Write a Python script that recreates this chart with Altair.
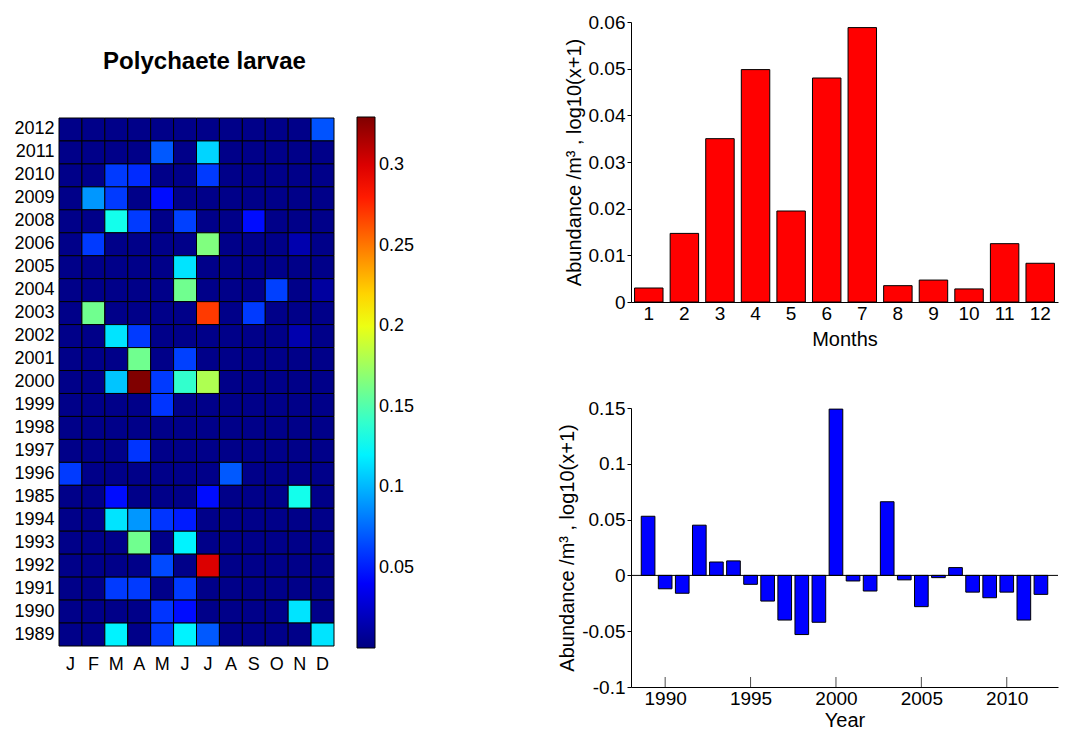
import altair as alt
import pandas as pd

# ---------------- data ----------------
years_order = ["2012", "2011", "2010", "2009", "2008", "2006", "2005", "2004",
               "2003", "2002", "2001", "2000", "1999", "1998", "1997", "1996",
               "1985", "1994", "1993", "1992", "1991", "1990", "1989"]
month_letters = ["J", "F", "M", "A", "M", "J", "J", "A", "S", "O", "N", "D"]

heat_values = [
    [0.003, 0.003, 0.003, 0.003, 0.003, 0.003, 0.003, 0.003, 0.003, 0.003, 0.003, 0.068],  # 2012
    [0.003, 0.003, 0.003, 0.003, 0.070, 0.003, 0.110, 0.003, 0.003, 0.003, 0.003, 0.003],  # 2011
    [0.003, 0.003, 0.060, 0.055, 0.003, 0.003, 0.060, 0.003, 0.003, 0.003, 0.003, 0.003],  # 2010
    [0.003, 0.090, 0.060, 0.003, 0.045, 0.003, 0.003, 0.003, 0.003, 0.003, 0.003, 0.003],  # 2009
    [0.003, 0.003, 0.130, 0.060, 0.003, 0.062, 0.003, 0.003, 0.045, 0.003, 0.003, 0.003],  # 2008
    [0.003, 0.060, 0.003, 0.003, 0.003, 0.003, 0.165, 0.003, 0.003, 0.003, 0.015, 0.003],  # 2006
    [0.003, 0.003, 0.003, 0.003, 0.003, 0.115, 0.003, 0.003, 0.003, 0.003, 0.003, 0.003],  # 2005
    [0.003, 0.003, 0.003, 0.003, 0.003, 0.160, 0.003, 0.003, 0.003, 0.062, 0.003, 0.010],  # 2004
    [0.003, 0.160, 0.003, 0.003, 0.003, 0.003, 0.270, 0.003, 0.060, 0.003, 0.003, 0.003],  # 2003
    [0.003, 0.003, 0.115, 0.060, 0.003, 0.003, 0.003, 0.003, 0.003, 0.003, 0.015, 0.003],  # 2002
    [0.003, 0.003, 0.003, 0.160, 0.003, 0.062, 0.003, 0.003, 0.003, 0.003, 0.003, 0.003],  # 2001
    [0.003, 0.003, 0.105, 0.330, 0.060, 0.140, 0.180, 0.003, 0.003, 0.003, 0.003, 0.003],  # 2000
    [0.003, 0.003, 0.003, 0.003, 0.058, 0.003, 0.003, 0.003, 0.003, 0.003, 0.003, 0.003],  # 1999
    [0.003, 0.003, 0.003, 0.003, 0.003, 0.003, 0.003, 0.003, 0.003, 0.003, 0.003, 0.003],  # 1998
    [0.003, 0.003, 0.003, 0.058, 0.003, 0.003, 0.003, 0.003, 0.003, 0.003, 0.003, 0.003],  # 1997
    [0.060, 0.003, 0.003, 0.003, 0.003, 0.003, 0.003, 0.070, 0.003, 0.003, 0.003, 0.003],  # 1996
    [0.003, 0.003, 0.045, 0.003, 0.003, 0.003, 0.045, 0.003, 0.003, 0.003, 0.130, 0.003],  # 1985
    [0.003, 0.003, 0.115, 0.090, 0.058, 0.050, 0.003, 0.003, 0.003, 0.003, 0.003, 0.003],  # 1994
    [0.003, 0.003, 0.003, 0.160, 0.003, 0.120, 0.003, 0.003, 0.003, 0.003, 0.003, 0.003],  # 1993
    [0.003, 0.003, 0.003, 0.003, 0.065, 0.003, 0.300, 0.003, 0.003, 0.003, 0.003, 0.003],  # 1992
    [0.003, 0.003, 0.060, 0.060, 0.003, 0.060, 0.003, 0.003, 0.003, 0.003, 0.003, 0.003],  # 1991
    [0.003, 0.003, 0.003, 0.003, 0.058, 0.045, 0.003, 0.003, 0.003, 0.003, 0.115, 0.003],  # 1990
    [0.003, 0.003, 0.120, 0.003, 0.060, 0.120, 0.070, 0.003, 0.003, 0.003, 0.003, 0.115],  # 1989
]

months = [1, 2, 3, 4, 5, 6, 7, 8, 9, 10, 11, 12]
month_means = [0.0030, 0.0147, 0.0350, 0.0498, 0.0195, 0.0480, 0.0588,
               0.0035, 0.0047, 0.0028, 0.0125, 0.0083]

years = list(range(1989, 2013))
year_anoms = [0.053, -0.012, -0.016, 0.045, 0.012, 0.013, -0.008, -0.023,
              -0.040, -0.053, -0.042, 0.149, -0.005, -0.014, 0.066, -0.004,
              -0.028, -0.002, 0.007, -0.015, -0.020, -0.015, -0.040, -0.017]

color_ticks = [0.05, 0.1, 0.15, 0.2, 0.25, 0.3]
jet_domain = [0, 0.04125, 0.12375, 0.20625, 0.28875, 0.33]
jet_range = ["#000080", "#0000ff", "#00ffff", "#ffff00", "#ff0000", "#800000"]
month_ticks = [0, 0.01, 0.02, 0.03, 0.04, 0.05, 0.06]
anom_ticks = [-0.1, -0.05, 0, 0.05, 0.1, 0.15]
year_ticks = [1990, 1995, 2000, 2005, 2010]

# ---------------- tables ----------------
heat_df = pd.DataFrame(
    [{"year": y, "month": m, "value": heat_values[i][m - 1]}
     for i, y in enumerate(years_order) for m in months]
)
month_df = pd.DataFrame({"month": months, "value": month_means})
year_df = pd.DataFrame({"year": years, "value": year_anoms})
yt_df = pd.DataFrame({"year": year_ticks, "base": [-0.1] * len(year_ticks)})
zero_df = pd.DataFrame({"z": [0]})

FONT = "Liberation Sans"
letters_js = "[" + ",".join("'%s'" % s for s in month_letters) + "]"
Y_TITLE = "Abundance /m³ , log10(x+1)"

# ---------------- heatmap ----------------
heat = alt.Chart(heat_df).mark_rect(stroke="#000000", strokeWidth=1).encode(
    x=alt.X("month:O", sort=months,
            axis=alt.Axis(title=None, labelAngle=0, ticks=False, domain=False,
                          labelPadding=8, labelFontSize=18,
                          labelExpr=letters_js + "[datum.value - 1]")),
    y=alt.Y("year:O", sort=years_order, scale=alt.Scale(range=[96, 624]),
            axis=alt.Axis(title=None, ticks=False, domain=False, labelPadding=5,
                          labelFontSize=18)),
    color=alt.Color("value:Q",
                    scale=alt.Scale(domain=jet_domain, range=jet_range, interpolate="rgb"),
                    legend=alt.Legend(title=None, orient="none", legendX=298, legendY=95,
                                      direction="vertical",
                                      gradientLength=531, gradientThickness=18,
                                      gradientStrokeColor="#000000", gradientStrokeWidth=1,
                                      values=color_ticks, labelFontSize=18,
                                      labelOffset=4, padding=0,
                                      labelExpr="toString(datum.value)")),
).properties(
    width=275, height=625,
    title=alt.TitleParams("Polychaete larvae", fontSize=24, fontWeight="bold",
                          font=FONT, offset=0, dy=52, dx=8, anchor="middle"),
)

# ---------------- monthly bars ----------------
top = alt.Chart(month_df).mark_bar(color="#ff0000", stroke="#000000", strokeWidth=1).encode(
    x=alt.X("month:O", scale=alt.Scale(paddingInner=0.2, paddingOuter=0.1),
            axis=alt.Axis(title="Months", labelAngle=0, ticks=False, titlePadding=6)),
    y=alt.Y("value:Q", scale=alt.Scale(domain=[0, 0.06], nice=False),
            axis=alt.Axis(values=month_ticks, title=Y_TITLE,
                          labelExpr="toString(datum.value)", tickSize=4)),
).properties(width=427, height=280)

# ---------------- yearly anomalies ----------------
xs = alt.Scale(domain=[1988, 2013], nice=False)
ys = alt.Scale(domain=[-0.1, 0.15], nice=False)
bars = alt.Chart(year_df).transform_calculate(
    x0="datum.year - 0.4", x1="datum.year + 0.4"
).mark_bar(color="#0000ff", stroke="#000000", strokeWidth=1).encode(
    x=alt.X("x0:Q", scale=xs,
            axis=alt.Axis(values=year_ticks, format="d", title="Year", ticks=False,
                          titlePadding=2)),
    x2="x1:Q",
    y=alt.Y("value:Q", scale=ys,
            axis=alt.Axis(values=anom_ticks, title=Y_TITLE,
                          labelExpr="toString(datum.value)", tickSize=4)),
    y2=alt.datum(0),
)
zero = alt.Chart(zero_df).mark_rule(color="#000000", strokeWidth=1).encode(
    y=alt.Y("z:Q", scale=ys)
)
inner_ticks = alt.Chart(yt_df).mark_tick(
    orient="vertical", size=10, thickness=1, color="#000000", yOffset=-5
).encode(
    x=alt.X("year:Q", scale=xs),
    y=alt.Y("base:Q", scale=ys),
)
bottom = alt.layer(bars, zero, inner_ticks).properties(width=427, height=279)

right = alt.vconcat(top, bottom, spacing=50)

chart = alt.hconcat(heat, right, spacing=142).resolve_legend(
    color="independent"
).configure_view(
    stroke=None
).configure_axis(
    labelFont=FONT, titleFont=FONT, labelFontSize=19, titleFontSize=20,
    titleFontWeight="normal", labelColor="#000000", titleColor="#000000",
    domainColor="#000000", tickColor="#000000", grid=False,
).configure_legend(
    labelFont=FONT, labelColor="#000000",
).properties(
    background="#ffffff",
    padding={"left": 5, "top": 5, "right": 0, "bottom": 0},
)

chart.save("out.html", embed_options={"renderer": "svg", "actions": False})
